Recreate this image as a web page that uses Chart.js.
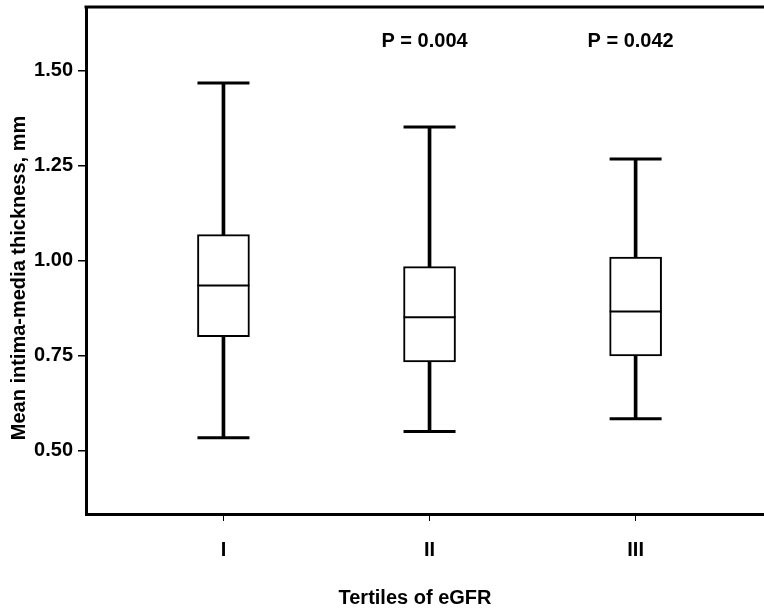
<!DOCTYPE html>
<html lang="en">
<head>
<meta charset="UTF-8">
<title>Mean intima-media thickness by tertiles of eGFR</title>
<script src="https://cdn.jsdelivr.net/npm/chart.js"></script>
<style>
  html, body { margin: 0; padding: 0; background: #fff; }
  #wrap { width: 764px; height: 608px; }
</style>
</head>
<body>
<div id="wrap"><canvas id="grafica"></canvas></div>
<script>
// datos
const categories = ['I', 'II', 'III'];
const whiskerLow = [0.534, 0.550, 0.584];
const q1 = [0.800, 0.733, 0.749];
const median = [0.934, 0.851, 0.866];
const q3 = [1.068, 0.984, 1.009];
const whiskerHigh = [1.467, 1.351, 1.267];
const yTicks = [0.50, 0.75, 1.00, 1.25, 1.50];
const pLabels = ['', 'P = 0.004', 'P = 0.042'];
const pLabelY = 1.575;

const FONT = '"Liberation Sans", Arial, sans-serif';
const FSIZE = 20;

// caps, medianas, marco superior, p-valores y titulos de ejes
const boxExtras = {
  id: 'boxExtras',
  afterDatasetsDraw(chart) {
    const { ctx, chartArea } = chart;
    const x = chart.scales.x, y = chart.scales.y;
    const half = 26;
    ctx.save();
    ctx.strokeStyle = '#000';
    ctx.lineCap = 'butt';
    categories.forEach((c, i) => {
      const cx = x.getPixelForValue(i + 1);
      ctx.lineWidth = 3;
      [whiskerLow[i], whiskerHigh[i]].forEach(v => {
        const py = y.getPixelForValue(v);
        ctx.beginPath();
        ctx.moveTo(cx - half, py);
        ctx.lineTo(cx + half, py);
        ctx.stroke();
      });
      ctx.lineWidth = 2;
      const my = y.getPixelForValue(median[i]);
      ctx.beginPath();
      ctx.moveTo(cx - half, my);
      ctx.lineTo(cx + half, my);
      ctx.stroke();
    });

    // linea superior del marco
    ctx.lineWidth = 3;
    ctx.beginPath();
    ctx.moveTo(chartArea.left - 1.5, chartArea.top);
    ctx.lineTo(chartArea.right, chartArea.top);
    ctx.stroke();

    ctx.fillStyle = '#000';
    ctx.font = 'bold ' + FSIZE + 'px ' + FONT;
    ctx.textAlign = 'center';
    ctx.textBaseline = 'middle';
    pLabels.forEach((t, i) => {
      if (!t) return;
      ctx.fillText(t, x.getPixelForValue(i + 1) - 5, y.getPixelForValue(pLabelY));
    });

    // titulos de los ejes
    ctx.textBaseline = 'alphabetic';
    ctx.fillText('Tertiles of eGFR', chartArea.left + 329, 604);
    ctx.translate(25, chartArea.top + 271);
    ctx.rotate(-Math.PI / 2);
    ctx.fillText('Mean intima-media thickness, mm', 0, 0);
    ctx.restore();
  }
};

const ctx = document.getElementById('grafica').getContext('2d');
new Chart(ctx, {
  type: 'bar',
  data: {
    datasets: [
      {
        label: 'Box',
        data: categories.map((c, i) => ({ x: i + 1, y: [q1[i], q3[i]] })),
        backgroundColor: '#fff',
        borderColor: '#000',
        borderWidth: 2,
        borderSkipped: false,
        barThickness: 52,
        grouped: false,
        order: 1
      },
      {
        label: 'Whisker',
        data: categories.map((c, i) => ({ x: i + 1, y: [whiskerLow[i], whiskerHigh[i]] })),
        backgroundColor: '#000',
        borderWidth: 0,
        barThickness: 3,
        grouped: false,
        order: 2
      }
    ]
  },
  options: {
    responsive: true,
    maintainAspectRatio: false,
    animation: false,
    layout: { padding: { top: 7, right: 0, bottom: 0, left: 0 } },
    plugins: { legend: { display: false }, tooltip: { enabled: false } },
    scales: {
      x: {
        type: 'linear',
        offset: false,
        min: 0.333,
        max: 3.623,
        afterBuildTicks: s => { s.ticks = categories.map((c, i) => ({ value: i + 1 })); },
        afterFit: s => { s.height = 94; s.paddingLeft = 0; s.paddingRight = 0; },
        ticks: {
          callback: v => categories[v - 1],
          color: '#000',
          padding: 17,
          maxRotation: 0,
          font: { family: FONT, weight: 'bold', size: FSIZE }
        },
        grid: { offset: false, drawOnChartArea: false, drawTicks: true, tickLength: 7, color: '#000', lineWidth: 1 },
        border: { display: true, color: '#000', width: 3 }
      },
      y: {
        min: 1 / 3,
        max: 5 / 3,
        afterBuildTicks: s => { s.ticks = yTicks.map(v => ({ value: v })); },
        afterFit: s => { s.width = 86; s.paddingTop = 0; s.paddingBottom = 0; },
        ticks: {
          callback: v => v.toFixed(2),
          color: '#000',
          padding: 5,
          font: { family: FONT, weight: 'bold', size: FSIZE }
        },
        grid: { drawOnChartArea: false, drawTicks: true, tickLength: 8, color: '#000', lineWidth: 1.5 },
        border: { display: true, color: '#000', width: 3 }
      }
    }
  },
  plugins: [boxExtras]
});
</script>
</body>
</html>
